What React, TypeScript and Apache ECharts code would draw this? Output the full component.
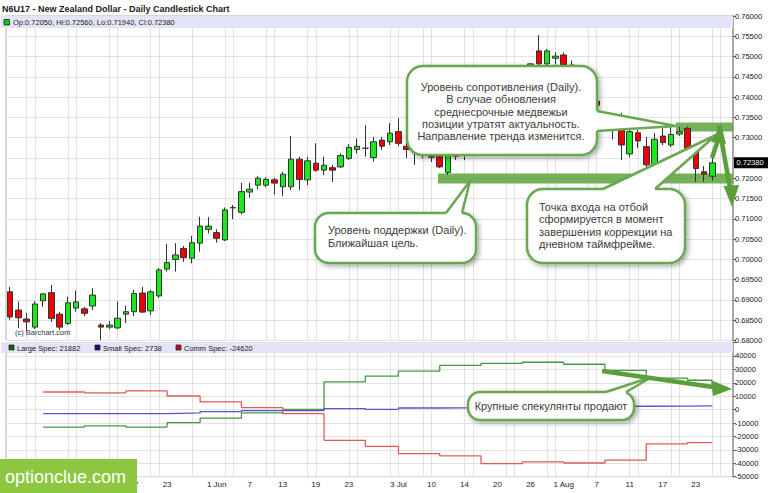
import React, { useEffect, useRef } from "react";
import * as echarts from "echarts";

// ---------- DATA ----------
const dates: string[] = [
  "2017-04-26","2017-04-27","2017-04-28",
  "2017-05-01","2017-05-02","2017-05-03","2017-05-04","2017-05-05","2017-05-08","2017-05-09","2017-05-10","2017-05-11","2017-05-12",
  "2017-05-15","2017-05-16","2017-05-17","2017-05-18","2017-05-19","2017-05-22","2017-05-23","2017-05-24","2017-05-25","2017-05-26",
  "2017-05-30","2017-05-31",
  "2017-06-01","2017-06-02","2017-06-05","2017-06-06","2017-06-07","2017-06-08","2017-06-09","2017-06-12","2017-06-13","2017-06-14",
  "2017-06-15","2017-06-16","2017-06-19","2017-06-20","2017-06-21","2017-06-22","2017-06-23","2017-06-26","2017-06-27","2017-06-28",
  "2017-06-29","2017-06-30",
  "2017-07-03","2017-07-05","2017-07-06","2017-07-07","2017-07-10","2017-07-11","2017-07-12","2017-07-13","2017-07-14","2017-07-17",
  "2017-07-18","2017-07-19","2017-07-20","2017-07-21","2017-07-24","2017-07-25","2017-07-26","2017-07-27","2017-07-28","2017-07-31",
  "2017-08-01","2017-08-02","2017-08-03","2017-08-04","2017-08-07","2017-08-08","2017-08-09","2017-08-10","2017-08-11","2017-08-14",
  "2017-08-15","2017-08-16","2017-08-17","2017-08-18","2017-08-21","2017-08-22","2017-08-23","2017-08-24","2017-08-25",
];
const padDates: string[] = ["2017-08-28", "2017-08-29"];

const opens: number[] = [
  0.6920,0.6875,0.6853,0.6833,0.6898,0.6918,0.6865,0.6842,0.6880,0.6878,
  0.6885,0.6838,0.6833,0.6831,0.6865,0.6871,0.6917,0.6873,0.6910,0.6976,
  0.7000,0.7027,0.7003,0.7040,0.7074,0.7066,0.7048,0.7127,0.7116,0.7166,
  0.7183,0.7183,0.7196,0.7179,0.7179,0.7247,0.7196,0.7237,0.7220,0.7226,
  0.7228,0.7249,0.7271,0.7274,0.7251,0.7294,0.7290,0.7315,0.7279,0.7278,
  0.7267,0.7258,0.7255,0.7214,0.7254,0.7257,0.7300,0.7295,0.7345,0.7330,
  0.7400,0.7420,0.7405,0.7440,0.7514,0.7482,0.7496,0.7504,0.7479,0.7440,
  0.7455,0.7390,0.7362,0.7332,0.7319,0.7260,0.7312,0.7278,0.7233,0.7304,
  0.7282,0.7309,0.7323,0.7274,0.7216,0.7205,
];
const closes: number[] = [
  0.6858,0.6856,0.6846,0.6890,0.6915,0.6854,0.6833,0.6893,0.6895,0.6867,
  0.6912,0.6833,0.6838,0.6855,0.6871,0.6916,0.6870,0.6920,0.6974,0.6992,
  0.7011,0.7004,0.7041,0.7082,0.7082,0.7052,0.7122,0.7128,0.7167,0.7173,
  0.7200,0.7197,0.7188,0.7210,0.7247,0.7197,0.7243,0.7220,0.7232,0.7220,
  0.7256,0.7276,0.7279,0.7274,0.7290,0.7279,0.7311,0.7286,0.7271,0.7263,
  0.7257,0.7252,0.7228,0.7257,0.7257,0.7300,0.7295,0.7345,0.7330,0.7400,
  0.7420,0.7405,0.7440,0.7482,0.7482,0.7514,0.7501,0.7479,0.7440,0.7455,
  0.7390,0.7380,0.7335,0.7322,0.7282,0.7315,0.7292,0.7233,0.7296,0.7288,
  0.7308,0.7315,0.7274,0.7224,0.7210,0.7238,
];
const lows: number[] = [
  0.6851,0.6831,0.6823,0.6828,0.6883,0.6846,0.6826,0.6838,0.6871,0.6860,
  0.6875,0.6801,0.6828,0.6828,0.6843,0.6860,0.6868,0.6863,0.6905,0.6970,
  0.6970,0.6994,0.6990,0.7019,0.7064,0.7041,0.7045,0.7099,0.7111,0.7152,
  0.7173,0.7178,0.7159,0.7156,0.7171,0.7171,0.7183,0.7216,0.7208,0.7191,
  0.7225,0.7245,0.7261,0.7253,0.7241,0.7270,0.7282,0.7279,0.7250,0.7233,
  0.7249,0.7240,0.7225,0.7208,0.7245,0.7245,0.7280,0.7285,0.7310,0.7320,
  0.7385,0.7390,0.7395,0.7430,0.7470,0.7465,0.7480,0.7460,0.7430,0.7425,
  0.7380,0.7364,0.7319,0.7296,0.7245,0.7252,0.7274,0.7225,0.7216,0.7282,
  0.7277,0.7304,0.7270,0.7191,0.7191,0.7194,
];
const highs: number[] = [
  0.6932,0.6896,0.6868,0.6897,0.6916,0.6937,0.6870,0.6908,0.6923,0.6883,
  0.6929,0.6843,0.6848,0.6896,0.6886,0.6925,0.6932,0.6925,0.6979,0.7038,
  0.7040,0.7033,0.7058,0.7105,0.7104,0.7074,0.7128,0.7134,0.7189,0.7189,
  0.7206,0.7203,0.7201,0.7216,0.7304,0.7253,0.7253,0.7286,0.7253,0.7233,
  0.7261,0.7284,0.7298,0.7331,0.7302,0.7302,0.7336,0.7348,0.7287,0.7290,
  0.7277,0.7268,0.7265,0.7265,0.7270,0.7310,0.7320,0.7355,0.7360,0.7410,
  0.7435,0.7440,0.7455,0.7484,0.7553,0.7519,0.7511,0.7510,0.7490,0.7465,
  0.7460,0.7401,0.7364,0.7360,0.7361,0.7324,0.7319,0.7302,0.7311,0.7327,
  0.7327,0.7327,0.7327,0.7278,0.7230,0.7256,
];

// visible date labels (the earlier ones sit under the logo in the reference)
const tickLabels: Record<string, string> = {
  "2017-05-17": "17", "2017-05-23": "23",
  "2017-06-01": "1 Jun", "2017-06-07": "7", "2017-06-13": "13", "2017-06-19": "19", "2017-06-23": "23",
  "2017-07-03": "3 Jul", "2017-07-10": "10", "2017-07-14": "14", "2017-07-20": "20", "2017-07-26": "26",
  "2017-08-01": "1 Aug", "2017-08-07": "7", "2017-08-11": "11", "2017-08-17": "17", "2017-08-23": "23",
};

const cotDates: string[] = [
  "2017-05-02","2017-05-09","2017-05-16","2017-05-23","2017-05-30","2017-06-06","2017-06-13","2017-06-20","2017-06-27",
  "2017-07-03","2017-07-11","2017-07-18","2017-07-25","2017-08-01","2017-08-08","2017-08-15","2017-08-22",
];
const largeSpec: number[] = [-13000,-12200,-13000,-9700,-6300,-2500,200,20600,24900,28600,33000,34500,35300,33800,29300,23500,21882];
const smallSpec: number[] = [-3000,-3000,-3000,-2500,-1500,-750,-750,750,200,1200,1500,2000,1800,2200,2500,2600,2738];
const commSpec: number[] = [13100,12400,13900,10150,5700,1500,-3000,-22900,-27400,-32800,-34500,-40200,-39000,-39800,-37600,-25500,-24620];

// ---------- STYLE ----------
const FONT = "'Liberation Sans', Arial, Helvetica, sans-serif";
const NARROW = "'Liberation Sans Narrow', 'Arial Narrow', 'Liberation Sans', Arial, sans-serif";
const GRID_C = "#e2e2e2";
const BORDER_G = "#6aa84f";
const ARROW_G = "#5c9e3c";

const lastClose = closes[closes.length - 1];

const isGridDay = (d: string) => {
  if (!d) return false;
  const wd = new Date(d + "T00:00:00Z").getUTCDay();
  return wd === 1 || wd === 5;
};

function txt(x: number, y: number, text: string, size: number, opts: any = {}) {
  return {
    type: "text",
    x,
    y,
    z: opts.z ?? 60,
    silent: true,
    style: {
      text,
      font: `${opts.weight || "normal"} ${size}px ${opts.family || FONT}`,
      fill: opts.fill || "#333",
      align: opts.align || "left",
      textAlign: opts.align || "left",
      verticalAlign: "middle",
      textVerticalAlign: "middle",
    },
  };
}

function bubble(x: number, y: number, w: number, h: number, r: number, tail: number[][], inner: number[][], z: number) {
  return [
    {
      type: "rect", z, silent: true,
      shape: { x, y, width: w, height: h, r },
      style: {
        fill: "#fff", stroke: BORDER_G, lineWidth: 2.5,
        shadowBlur: 5, shadowColor: "rgba(0,0,0,0.35)", shadowOffsetX: 2, shadowOffsetY: 2,
      },
    },
    {
      type: "polygon", z: z + 1, silent: true,
      shape: { points: [tail[0], tail[1], tail[2], inner[1], inner[0]] },
      style: { fill: "#fff" },
    },
    {
      type: "polyline", z: z + 2, silent: true,
      shape: { points: tail },
      style: { stroke: BORDER_G, lineWidth: 2.5, fill: null },
    },
  ];
}

function arrow(x1: number, y1: number, x2: number, y2: number, head: number[][]) {
  return [
    { type: "line", z: 45, silent: true, shape: { x1, y1, x2, y2 }, style: { stroke: ARROW_G, lineWidth: 4.5 } },
    { type: "polygon", z: 45, silent: true, shape: { points: head }, style: { fill: ARROW_G } },
  ];
}

function buildOption() {
  const cats = dates.concat(padDates);
  const candleData = opens.map((o, i) => [o, closes[i], lows[i], highs[i]]);
  const lastDate = dates[dates.length - 1];
  const stepData = (vals: number[]) =>
    cotDates.map((d, i) => [d, vals[i]]).concat([[lastDate, vals[vals.length - 1]]]);

  const xBase = {
    type: "category",
    data: cats,
    boundaryGap: true,
    axisLine: { show: false },
    axisTick: { show: false },
    splitLine: {
      show: true,
      interval: (_i: number, v: string) => isGridDay(v),
      alignWithLabel: true,
      lineStyle: { color: GRID_C, width: 1 },
    },
  };

  return {
    animation: false,
    backgroundColor: "#fff",
    grid: [
      { left: 6, right: 35, top: 16, height: 324.5, show: true, borderColor: "#b0b0b0", borderWidth: 1 },
      { left: 6, right: 35, top: 342.5, height: 134.2, show: true, borderColor: "#b0b0b0", borderWidth: 1 },
    ],
    xAxis: [
      { ...xBase, gridIndex: 0, axisLabel: { show: false } },
      {
        ...xBase,
        gridIndex: 1,
        axisLabel: {
          show: true,
          interval: (_i: number, v: string) => v in tickLabels,
          formatter: (v: string) => tickLabels[v] || "",
          fontSize: 8,
          fontFamily: NARROW,
          color: "#222",
          margin: 4,
          hideOverlap: false,
        },
      },
    ],
    yAxis: [
      {
        type: "value", gridIndex: 0, position: "right",
        min: 0.68, max: 0.76, interval: 0.005,
        axisLine: { show: true, lineStyle: { color: "#a8a8a8", width: 2 } },
        axisTick: { show: true, length: 3, lineStyle: { color: "#666" } },
        axisLabel: {
          // the last-price tag covers the tick label next to it
          formatter: (v: number) => (Math.abs(v - lastClose) < 0.002 ? "" : v.toFixed(5)),
          fontSize: 7.5, fontFamily: FONT, color: "#222", margin: 2,
        },
        splitLine: { show: true, lineStyle: { color: GRID_C } },
      },
      {
        type: "value", gridIndex: 1, position: "right",
        min: -50000, max: 50000, interval: 10000,
        axisLine: { show: true, lineStyle: { color: "#a8a8a8", width: 2 } },
        axisTick: { show: true, length: 3, lineStyle: { color: "#666" } },
        axisLabel: {
          formatter: (v: number) => (v >= 50000 ? "" : String(v)),
          fontSize: 7.5, fontFamily: FONT, color: "#222", margin: 2,
        },
        splitLine: { show: true, lineStyle: { color: GRID_C } },
      },
    ],
    series: [
      {
        type: "candlestick",
        xAxisIndex: 0, yAxisIndex: 0,
        data: candleData,
        barWidth: 6,
        itemStyle: {
          color: "#1ae81a", color0: "#f00000",
          borderColor: "#333", borderColor0: "#333", borderColorDoji: "#333",
          borderWidth: 1,
        },
      },
      {
        type: "line", name: "Large Spec", xAxisIndex: 1, yAxisIndex: 1, step: "end", showSymbol: false,
        data: stepData(largeSpec), lineStyle: { color: "#449a44", width: 1.3 },
      },
      {
        type: "line", name: "Small Spec", xAxisIndex: 1, yAxisIndex: 1, step: "end", showSymbol: false,
        data: stepData(smallSpec), lineStyle: { color: "#5555cc", width: 1.3 },
      },
      {
        type: "line", name: "Comm Spec", xAxisIndex: 1, yAxisIndex: 1, step: "end", showSymbol: false,
        data: stepData(commSpec), lineStyle: { color: "#e25a5a", width: 1.3 },
      },
    ],
  };
}

function buildGraphics(priceY: number) {
  const n = opens.length - 1;
  const f5 = (v: number) => v.toFixed(5);
  const ohlcText = `Op:${f5(opens[n])}, Hi:${f5(highs[n])}, Lo:${f5(lows[n])}, Cl:${f5(closes[n])}`;
  const L = largeSpec[largeSpec.length - 1];
  const S = smallSpec[smallSpec.length - 1];
  const C = commSpec[commSpec.length - 1];

  const els: any[] = [
    txt(2, 8.5, "N6U17 - New Zealand Dollar - Daily Candlestick Chart", 9, { weight: "bold", fill: "#1a1a1a" }),
    { type: "rect", z: 5, silent: true, shape: { x: 1, y: 16, width: 732, height: 12 }, style: { fill: "#e4e4f8" } },
    { type: "rect", z: 6, silent: true, shape: { x: 4, y: 19.5, width: 5.5, height: 5.5 }, style: { fill: "#00d000", stroke: "#222", lineWidth: 0.8 } },
    txt(13, 22.5, ohlcText, 7.5, { fill: "#222" }),
    { type: "rect", z: 5, silent: true, shape: { x: 1, y: 342.5, width: 732, height: 10.5 }, style: { fill: "#e4e4f8" } },
    { type: "rect", z: 6, silent: true, shape: { x: 9, y: 345, width: 5, height: 5 }, style: { fill: "#0a6b0a", stroke: "#222", lineWidth: 0.8 } },
    txt(17, 348, `Large Spec: ${L}`, 7.5, { fill: "#222" }),
    { type: "rect", z: 6, silent: true, shape: { x: 95, y: 345, width: 5, height: 5 }, style: { fill: "#10108f", stroke: "#222", lineWidth: 0.8 } },
    txt(103, 348, `Small Spec: ${S}`, 7.5, { fill: "#222" }),
    { type: "rect", z: 6, silent: true, shape: { x: 176, y: 345, width: 5, height: 5 }, style: { fill: "#cc1010", stroke: "#222", lineWidth: 0.8 } },
    txt(184, 348, `Comm Spec: ${C}`, 7.5, { fill: "#222" }),
    txt(15, 332.5, "(c) Barchart.com", 7.5, { fill: "#333" }),

    // bands
    { type: "rect", z: 1, silent: true, shape: { x: 676, y: 122.5, width: 57, height: 9 }, style: { fill: "rgba(98,166,66,0.88)" } },
    { type: "rect", z: 1, silent: true, shape: { x: 438, y: 173.5, width: 295, height: 10 }, style: { fill: "rgba(98,166,66,0.88)" } },
  ];

  // resistance bubble
  els.push(...bubble(407, 66, 190, 89, 16, [[597, 111], [676, 126], [597, 131]], [[591, 111], [591, 131]], 30));
  const resLines = [
    "Уровень сопротивления (Daily).",
    "В случае обновления",
    "среднесрочные медвежьи",
    "позиции утратят актуальность.",
    "Направление тренда изменится.",
  ];
  resLines.forEach((t, i) => els.push(txt(501, 87 + i * 12.3, t, 11, { align: "center", fill: "#3c3c3c" })));

  // support bubble
  els.push(...bubble(315, 213, 161, 50, 14, [[446, 213], [470, 181], [462, 213]], [[446, 218], [462, 218]], 30));
  els.push(txt(328, 230, "Уровень поддержки (Daily).", 11, { fill: "#3c3c3c" }));
  els.push(txt(328, 242.5, "Ближайшая цель.", 11, { fill: "#3c3c3c" }));

  // entry bubble
  els.push(...bubble(527, 189, 158, 74, 16, [[603, 189], [716, 135], [655, 189]], [[603, 194], [655, 194]], 30));
  const entryLines = [
    "Точка входа на отбой",
    "сформируется в момент",
    "завершения коррекции на",
    "дневном таймфрейме.",
  ];
  entryLines.forEach((t, i) => els.push(txt(539, 207 + i * 12.3, t, 11, { fill: "#3c3c3c" })));

  // arrows (price panel)
  els.push(...arrow(719, 126, 730, 188, [[723.5, 186], [739, 185], [732, 207]]));
  els.push(...arrow(712, 158, 718, 140, [[711, 142], [726, 144], [721, 124]]));

  // COT panel callout & arrow
  els.push(...arrow(602, 371, 713, 387, [[711, 380], [713, 396], [732, 389]]));
  els.push(...bubble(468, 392, 166, 28, 12, [[606, 392], [652, 377], [626, 392]], [[606, 397], [626, 397]], 30));
  els.push(txt(551, 406, "Крупные спекулянты продают", 11, { align: "center", fill: "#3c3c3c" }));

  // last price tag
  els.push({ type: "rect", z: 50, silent: true, shape: { x: 734, y: priceY - 5.5, width: 34, height: 11 }, style: { fill: "#000" } });
  els.push(txt(736.5, priceY, lastClose.toFixed(5), 7.5, { fill: "#fff", z: 51 }));

  // logo
  els.push({ type: "rect", z: 70, silent: true, shape: { x: 0, y: 459, width: 137, height: 34 }, style: { fill: "#8dc63f" } });
  els.push(txt(5, 476.5, "optionclue.com", 18, { fill: "#fff", z: 71 }));

  return els;
}

export default function App() {
  const ref = useRef<HTMLDivElement>(null);
  useEffect(() => {
    if (!ref.current) return;
    const chart = echarts.init(ref.current, null, { renderer: "svg" });
    chart.setOption(buildOption() as any);
    const py = chart.convertToPixel({ yAxisIndex: 0 } as any, lastClose) as unknown as number;
    chart.setOption({ graphic: { elements: buildGraphics(py) } } as any);
    return () => chart.dispose();
  }, []);
  return (
    <div
      ref={ref}
      style={{ position: "fixed", left: 0, top: 0, width: 768, height: 493, background: "#fff" }}
    />
  );
}
